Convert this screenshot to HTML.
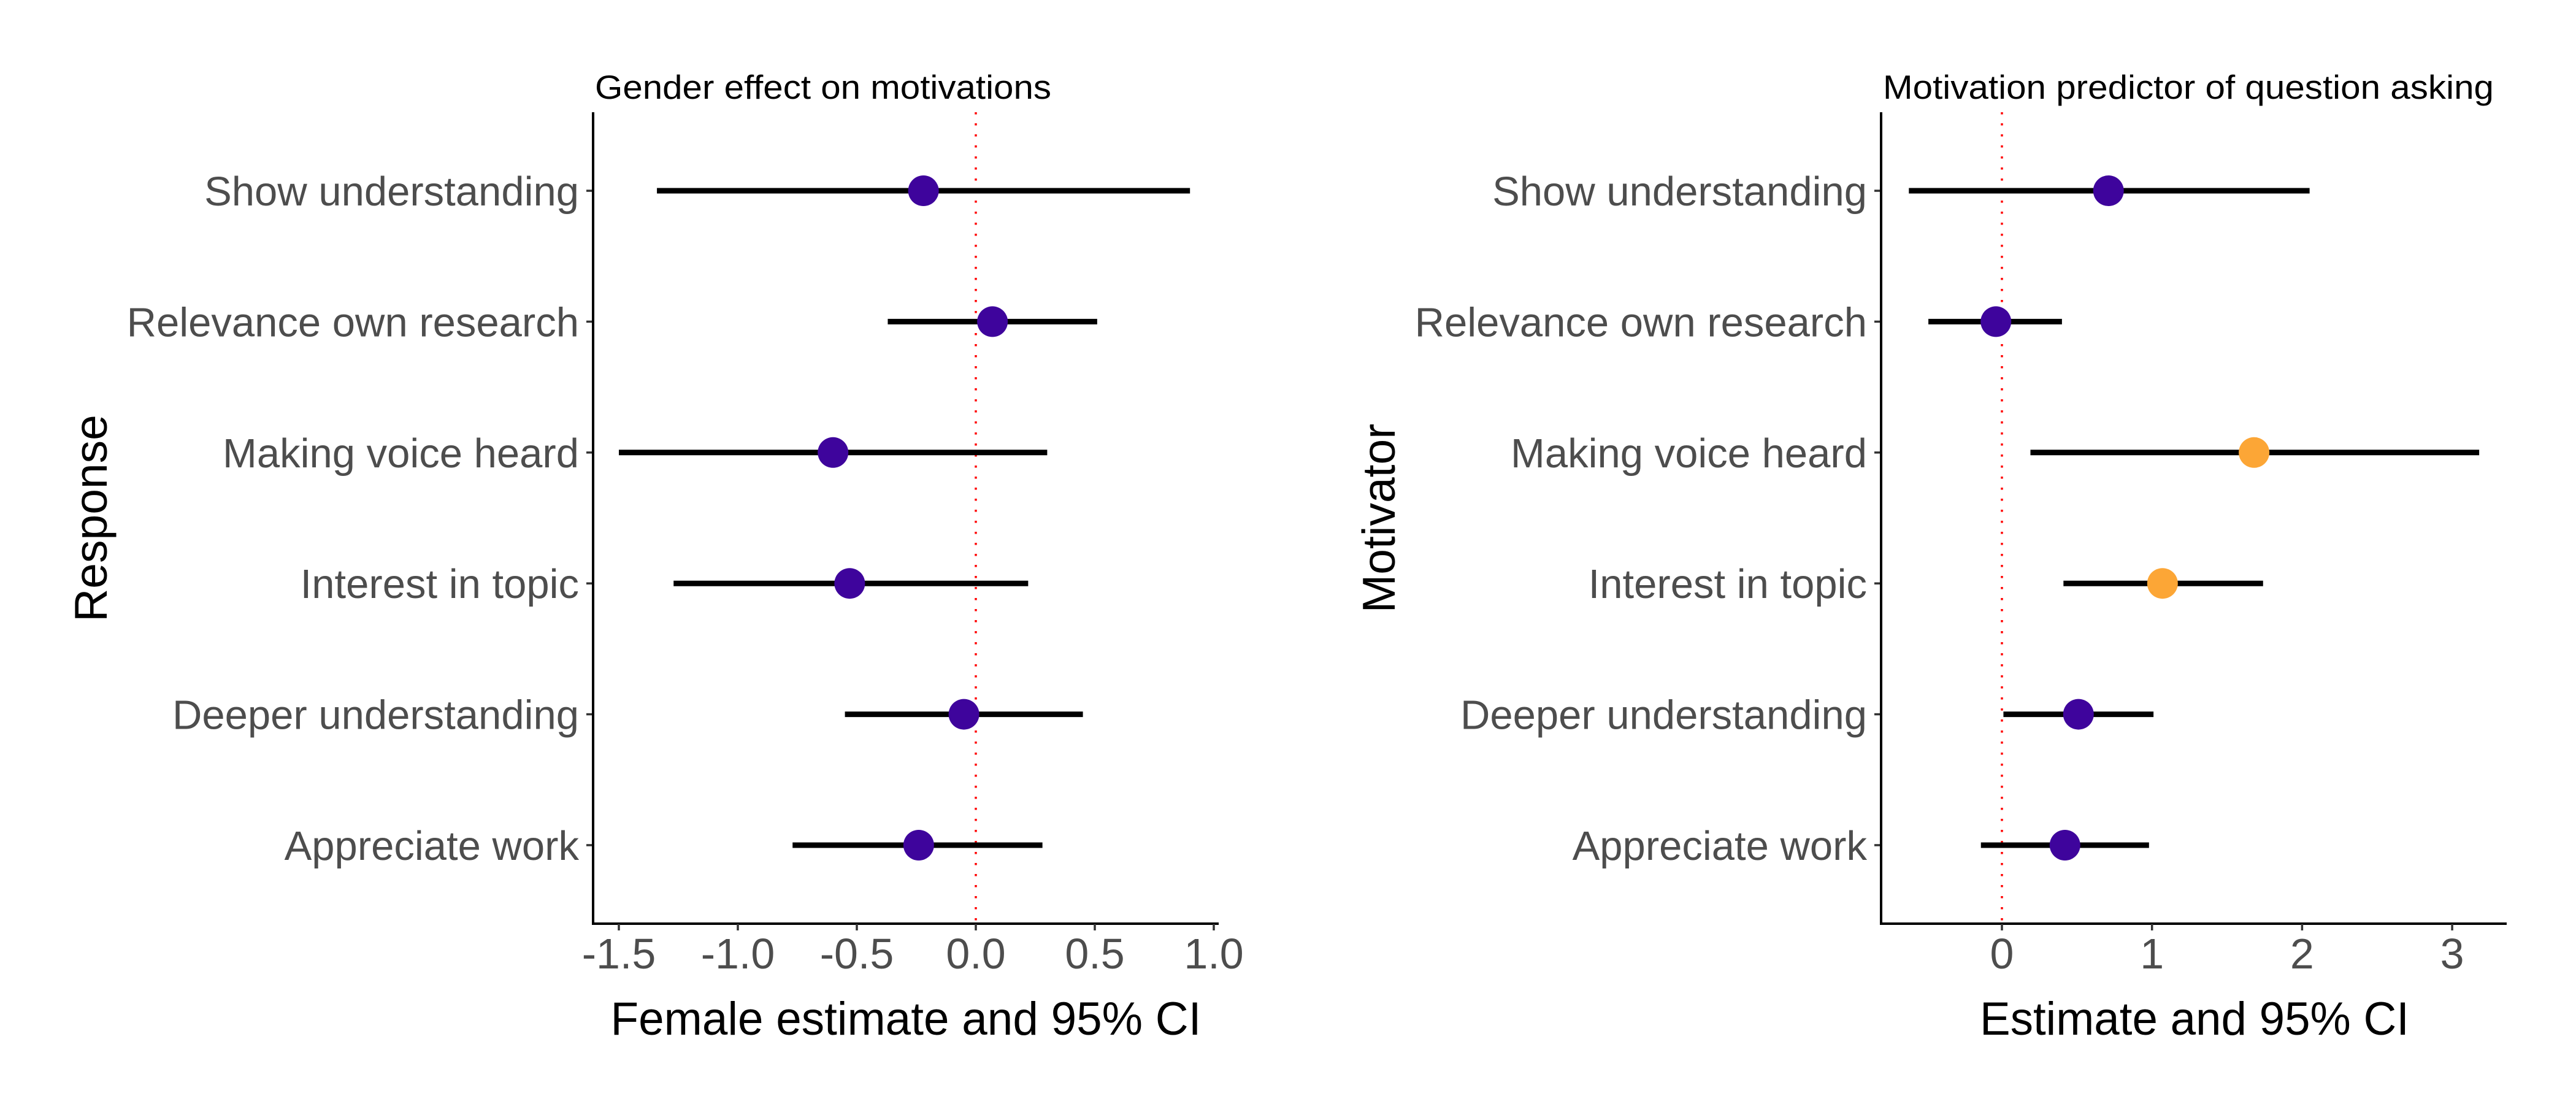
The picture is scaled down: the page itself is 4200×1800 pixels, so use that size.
<!DOCTYPE html>
<html><head><meta charset="utf-8"><style>
html,body{margin:0;padding:0;background:#fff;}
svg{display:block;font-family:"Liberation Sans",Arial,sans-serif;}
</style></head><body>
<svg id="chart" width="4200" height="1800" viewBox="0 0 4200 1800" xmlns="http://www.w3.org/2000/svg"></svg>
<script>
const categories = ["Show understanding","Relevance own research","Making voice heard","Interest in topic","Deeper understanding","Appreciate work"];
const leftEst = [-0.22, 0.07, -0.60, -0.53, -0.05, -0.24];
const leftLo  = [-1.34, -0.37, -1.50, -1.27, -0.55, -0.77];
const leftHi  = [0.90, 0.51, 0.30, 0.22, 0.45, 0.28];
const leftTicks = [-1.5, -1.0, -0.5, 0.0, 0.5, 1.0];
const leftTickLabels = ["-1.5","-1.0","-0.5","0.0","0.5","1.0"];
const rightEst = [0.71, -0.04, 1.68, 1.07, 0.51, 0.42];
const rightLo  = [-0.62, -0.49, 0.19, 0.41, 0.01, -0.14];
const rightHi  = [2.05, 0.40, 3.18, 1.74, 1.01, 0.98];
const rightSig = [false, false, true, true, false, false];
const rightTicks = [0, 1, 2, 3];
const rightTickLabels = ["0","1","2","3"];

const NS = "http://www.w3.org/2000/svg";
const svg = document.getElementById('chart');
function mk(tag, attrs, parent){ const e=document.createElementNS(NS,tag); for(const k in attrs) e.setAttribute(k,attrs[k]); (parent||svg).appendChild(e); return e; }

function panel(opt){
  const g = mk('g',{});
  
  
  const x0=opt.x0, x1=opt.x1, top=183, bot=1506;
  const xs = v => opt.zeroPx + v*opt.unit;
  const ys = i => top + (0.6 + i) * (bot-top)/6.2;
  // title
  const t = mk('text',{x:x0+3,y:161,'font-size':55,fill:'#000',textLength:opt.titleLen,lengthAdjust:'spacingAndGlyphs'},g);
  t.textContent = opt.title;
  
  
  // zero line
  const z = mk('line',{x1:xs(0),x2:xs(0),y1:top,y2:bot,stroke:'#ff0000','stroke-width':3.5,'stroke-dasharray':'3.5 14.5'},g);
  
  
  // rows
  categories.forEach((c,i)=>{
    const y = ys(i);
    const lbl = mk('text',{x:944,y:y+24,'font-size':67,fill:'#4d4d4d','text-anchor':'end'},g);
    lbl.setAttribute('transform','translate('+(x0-967)+',0)');
    lbl.textContent = c;
    
    
    const tk = mk('line',{x1:x0-11,x2:x0,y1:y,y2:y,stroke:'#333','stroke-width':3.5},g);
    
    
    const ci = mk('line',{x1:xs(opt.lo[i]),x2:xs(opt.hi[i]),y1:y,y2:y,stroke:'#000','stroke-width':9},g);
    
    
    const pt = mk('circle',{cx:xs(opt.est[i]),cy:y,r:25,fill:(opt.sig&&opt.sig[i])?'#FCA636':'#3E049C'},g);
    
    
  });
  // axes
  const ya = mk('line',{x1:x0,x2:x0,y1:top,y2:bot+2,stroke:'#000','stroke-width':4},g);
  
  
  const xa = mk('line',{x1:x0-2,x2:x1,y1:bot,y2:bot,stroke:'#000','stroke-width':4},g);
  
  
  opt.ticks.forEach((v,i)=>{
    const tk = mk('line',{x1:xs(v),x2:xs(v),y1:bot,y2:bot+11,stroke:'#333','stroke-width':3.5},g);
    
    
    const tl = mk('text',{x:xs(v),y:1579,'font-size':70,fill:'#4d4d4d','text-anchor':'middle'},g);
    tl.textContent = opt.tickLabels[i];
    
    
  });
  const xt = mk('text',{x:opt.xTitleCx,y:1687,'font-size':76,fill:'#000','text-anchor':'middle',textLength:opt.xTitleLen,lengthAdjust:'spacingAndGlyphs'},g);
  xt.textContent = opt.xTitle;
  
  
  const yt = mk('text',{x:0,y:0,'font-size':75,fill:'#000','text-anchor':'middle',transform:'translate('+(opt.yTitleX)+',845) rotate(-90)'},g);
  yt.textContent = opt.yTitle;
  
  
}

panel({name:'gender-effect-panel',x0:967,x1:1987,zeroPx:1591,unit:388,title:'Gender effect on motivations',titleLen:744,
  est:leftEst,lo:leftLo,hi:leftHi,ticks:leftTicks,tickLabels:leftTickLabels,
  xTitle:'Female estimate and 95% CI',xTitleCx:1477,xTitleLen:963,yTitle:'Response',yTitleX:174});
panel({name:'motivation-predictor-panel',x0:3067,x1:4087,zeroPx:3264,unit:244.7,title:'Motivation predictor of question asking',titleLen:996,
  est:rightEst,lo:rightLo,hi:rightHi,sig:rightSig,ticks:rightTicks,tickLabels:rightTickLabels,
  xTitle:'Estimate and 95% CI',xTitleCx:3578,xTitleLen:700,yTitle:'Motivator',yTitleX:2274});
</script>
</body></html>
